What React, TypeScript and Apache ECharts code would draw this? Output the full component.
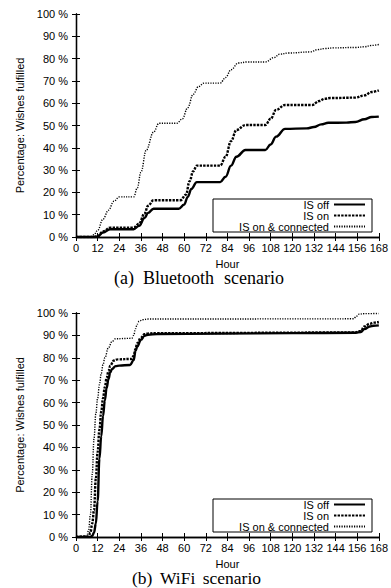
import React, { useEffect, useRef } from "react";
import * as echarts from "echarts";

// ---- Data: (a) Bluetooth scenario ----
const btOffHours = [0, 10, 12, 15, 19, 32, 35, 38, 40, 43, 57, 60, 62, 64, 67, 80, 83, 86, 89, 94, 105, 108, 111, 116, 128, 132, 136, 140, 150, 155, 160, 164, 168];
const btOffValues = [0, 0, 0.3, 2, 3.5, 3.5, 5, 8.5, 10.8, 12.7, 12.7, 14.5, 18, 21.5, 24.6, 24.6, 27, 32, 36, 39, 39, 41.5, 45, 48.5, 48.7, 49.3, 50.5, 51.2, 51.3, 51.6, 52.8, 53.8, 54];

const btOnHours = [0, 10, 12, 15, 19, 32, 35, 38, 40, 43, 58, 61, 63, 65, 67, 80, 83, 86, 89, 94, 105, 108, 111, 116, 131, 135, 138, 141, 155, 160, 164, 168];
const btOnValues = [0, 0, 0.4, 2.5, 4.2, 4.2, 6, 10.5, 14, 16.5, 16.5, 19, 25, 29.5, 32, 32, 36, 43, 48, 50.2, 50.2, 53, 57, 59.2, 59.2, 61, 62, 62.3, 62.5, 63.5, 65, 65.8];

const btConnHours = [0, 8, 10, 12, 15, 18, 21, 24, 32, 34, 36, 39, 43, 46, 56, 59, 62, 65, 68, 71, 80, 83, 86, 90, 95, 105, 110, 113, 118, 130, 134, 138, 143, 155, 160, 164, 168];
const btConnValues = [0, 0, 1, 3, 8, 12, 16, 18, 18, 22, 29, 39, 47, 51, 51, 53, 58, 64, 67.5, 69, 69, 71.5, 75, 78, 78.5, 78.5, 80.5, 82, 82.5, 83, 84, 84.5, 84.8, 85, 85.3, 85.9, 86.3];

// ---- Data: (b) WiFi scenario ----
const wfOffHours = [0, 8, 9, 10, 11, 12, 13, 14, 15, 16, 17, 18, 19, 20, 22, 24, 30, 32, 33, 34, 36, 38, 40, 45, 80, 120, 155, 158, 160, 163, 165, 168];
const wfOffValues = [0, 0, 0.5, 2, 6, 16, 35, 45, 54, 61, 66.5, 70.5, 73.5, 75, 76.3, 76.5, 76.8, 79, 83, 85, 88, 89.8, 90.3, 90.6, 90.8, 91, 91.2, 91.5, 92.8, 94, 94.3, 94.5];

const wfOnHours = [0, 7, 8, 9, 10, 11, 12, 13, 14, 15, 16, 17, 18, 19, 21, 23, 31, 32, 33, 34, 36, 38, 40, 45, 155, 158, 160, 163, 165, 168];
const wfOnValues = [0, 0.3, 2, 6, 12, 26, 38, 48, 56, 62, 67, 71, 74, 76.5, 78.8, 79.3, 79.5, 81, 84, 86.5, 89, 90.5, 90.9, 91, 91.3, 92, 94, 95.2, 95.7, 96];

const wfConnHours = [0, 5, 6, 7, 8, 9, 10, 11, 12, 13, 14, 15, 16, 18, 20, 22, 31, 32, 33, 34, 35, 37, 40, 154, 155.5, 157, 160, 168];
const wfConnValues = [0, 0, 0.5, 3, 10, 28, 44, 55, 62, 68, 73, 77, 80, 84.5, 87.3, 88.5, 88.7, 90, 93, 95, 96.3, 97, 97.3, 97.4, 98.5, 99.5, 99.7, 99.8];

const seriesNames = ["IS off", "IS on", "IS on & connected"];
const hourMin = 0;
const hourMax = 168;
const hourStep = 12;
const pctMin = 0;
const pctMax = 100;
const pctStep = 10;

const SANS = '"Liberation Sans", Arial, Helvetica, sans-serif';
const SERIF = '"Liberation Serif", "Times New Roman", serif';

const pairs = (h: number[], v: number[]) => h.map((x, i) => [x, v[i]]);

const styles = [
  { color: "#000", width: 2.4, type: "solid" as any },
  { color: "#000", width: 2.4, type: [2.4, 1.2] as any },
  { color: "#000", width: 1.4, type: [1.2, 1.3] as any },
];

export default function App() {
  const ref = useRef<HTMLDivElement>(null);
  useEffect(() => {
    document.body.style.margin = "0";
    if (!ref.current) return;
    const chart = echarts.init(ref.current, null, { renderer: "svg" });

    const grids = [
      { left: 76, top: 14, width: 303, height: 223 },
      { left: 76, top: 313, width: 303, height: 224 },
    ];

    const axisLine = { show: true, lineStyle: { color: "#000", width: 1.3 } };
    const tick = { show: true, inside: true, length: 4, lineStyle: { color: "#000", width: 1 } };

    const xAxes: any[] = [];
    const yAxes: any[] = [];
    [0, 1].forEach((g) => {
      xAxes.push({
        type: "value", gridIndex: g, position: "bottom", min: hourMin, max: hourMax, interval: hourStep,
        axisLine, axisTick: tick, splitLine: { show: false },
        axisLabel: { show: true, color: "#000", fontSize: 11, fontFamily: SANS, margin: 5, hideOverlap: false, showMinLabel: true, showMaxLabel: true },
        name: "Hour", nameLocation: "middle", nameGap: 21,
        nameTextStyle: { color: "#000", fontSize: 11, fontFamily: SANS, lineHeight: 11 },
      });
      xAxes.push({
        type: "value", gridIndex: g, position: "top", min: hourMin, max: hourMax, interval: hourStep,
        axisLine, axisTick: tick, splitLine: { show: false }, axisLabel: { show: false },
      });
      yAxes.push({
        type: "value", gridIndex: g, position: "left", min: pctMin, max: pctMax, interval: pctStep,
        axisLine, axisTick: tick, splitLine: { show: false },
        axisLabel: { show: true, color: "#000", fontSize: 11, fontFamily: SANS, margin: 8, formatter: "{value} %" },
        name: "Percentage: Wishes fulfilled", nameLocation: "middle", nameGap: 47, nameRotate: 90,
        nameTextStyle: { color: "#000", fontSize: 11, fontFamily: SANS },
      });
      yAxes.push({
        type: "value", gridIndex: g, position: "right", min: pctMin, max: pctMax, interval: pctStep,
        axisLine, axisTick: tick, splitLine: { show: false }, axisLabel: { show: false },
      });
    });

    const dataSets = [
      [pairs(btOffHours, btOffValues), pairs(btOnHours, btOnValues), pairs(btConnHours, btConnValues)],
      [pairs(wfOffHours, wfOffValues), pairs(wfOnHours, wfOnValues), pairs(wfConnHours, wfConnValues)],
    ];

    const series: any[] = [];
    dataSets.forEach((set, g) => {
      set.forEach((data, k) => {
        series.push({
          name: seriesNames[k], type: "line", xAxisIndex: g * 2, yAxisIndex: g * 2,
          data, symbol: "none", showSymbol: false, smooth: 0.4, smoothMonotone: "x",
          lineStyle: { ...styles[k] }, itemStyle: { color: styles[k].color },
          z: 5 - k, clip: true,
        });
      });
    });

    const legendBase = (top: number) => ({
      show: true, orient: "vertical", align: "right", left: 213, top,
      data: seriesNames, selectedMode: false,
      borderColor: "#000", borderWidth: 1, borderRadius: 0,
      padding: [0, 6, 0, 0], itemGap: 0, itemWidth: 31, itemHeight: 11.5,
      itemStyle: { color: "rgba(0,0,0,0)", borderColor: "rgba(0,0,0,0)", borderWidth: 0, opacity: 0 },
      formatter: (n: string) => `{a|${n}}`,
      textStyle: {
        color: "#000", fontSize: 11, fontFamily: SANS,
        rich: { a: { width: 116, align: "right", fontSize: 11, fontFamily: SANS, color: "#000", lineHeight: 11.5 } },
      },
    });

    const caption = (x: number, y: number, text: string, size: number, align = "left") => ({
      type: "text", x, y, silent: true,
      style: { text, fill: "#000", font: `${size}px ${SERIF}`, textAlign: align, textVerticalAlign: "middle" },
    });

    chart.setOption({
      animation: false,
      grid: grids,
      xAxis: xAxes,
      yAxis: yAxes,
      series,
      legend: [legendBase(199), legendBase(499)],
      graphic: [
        caption(114, 278, "(a)", 18), caption(143, 278, "Bluetooth", 18), caption(224, 278, "scenario", 18),
        caption(132, 578, "(b)", 17.5), caption(160, 578, "WiFi", 17.5), caption(261, 578, "scenario", 17.5, "right"),
      ],
    });
    return () => chart.dispose();
  }, []);
  return <div ref={ref} style={{ width: 391, height: 588 }} />;
}
